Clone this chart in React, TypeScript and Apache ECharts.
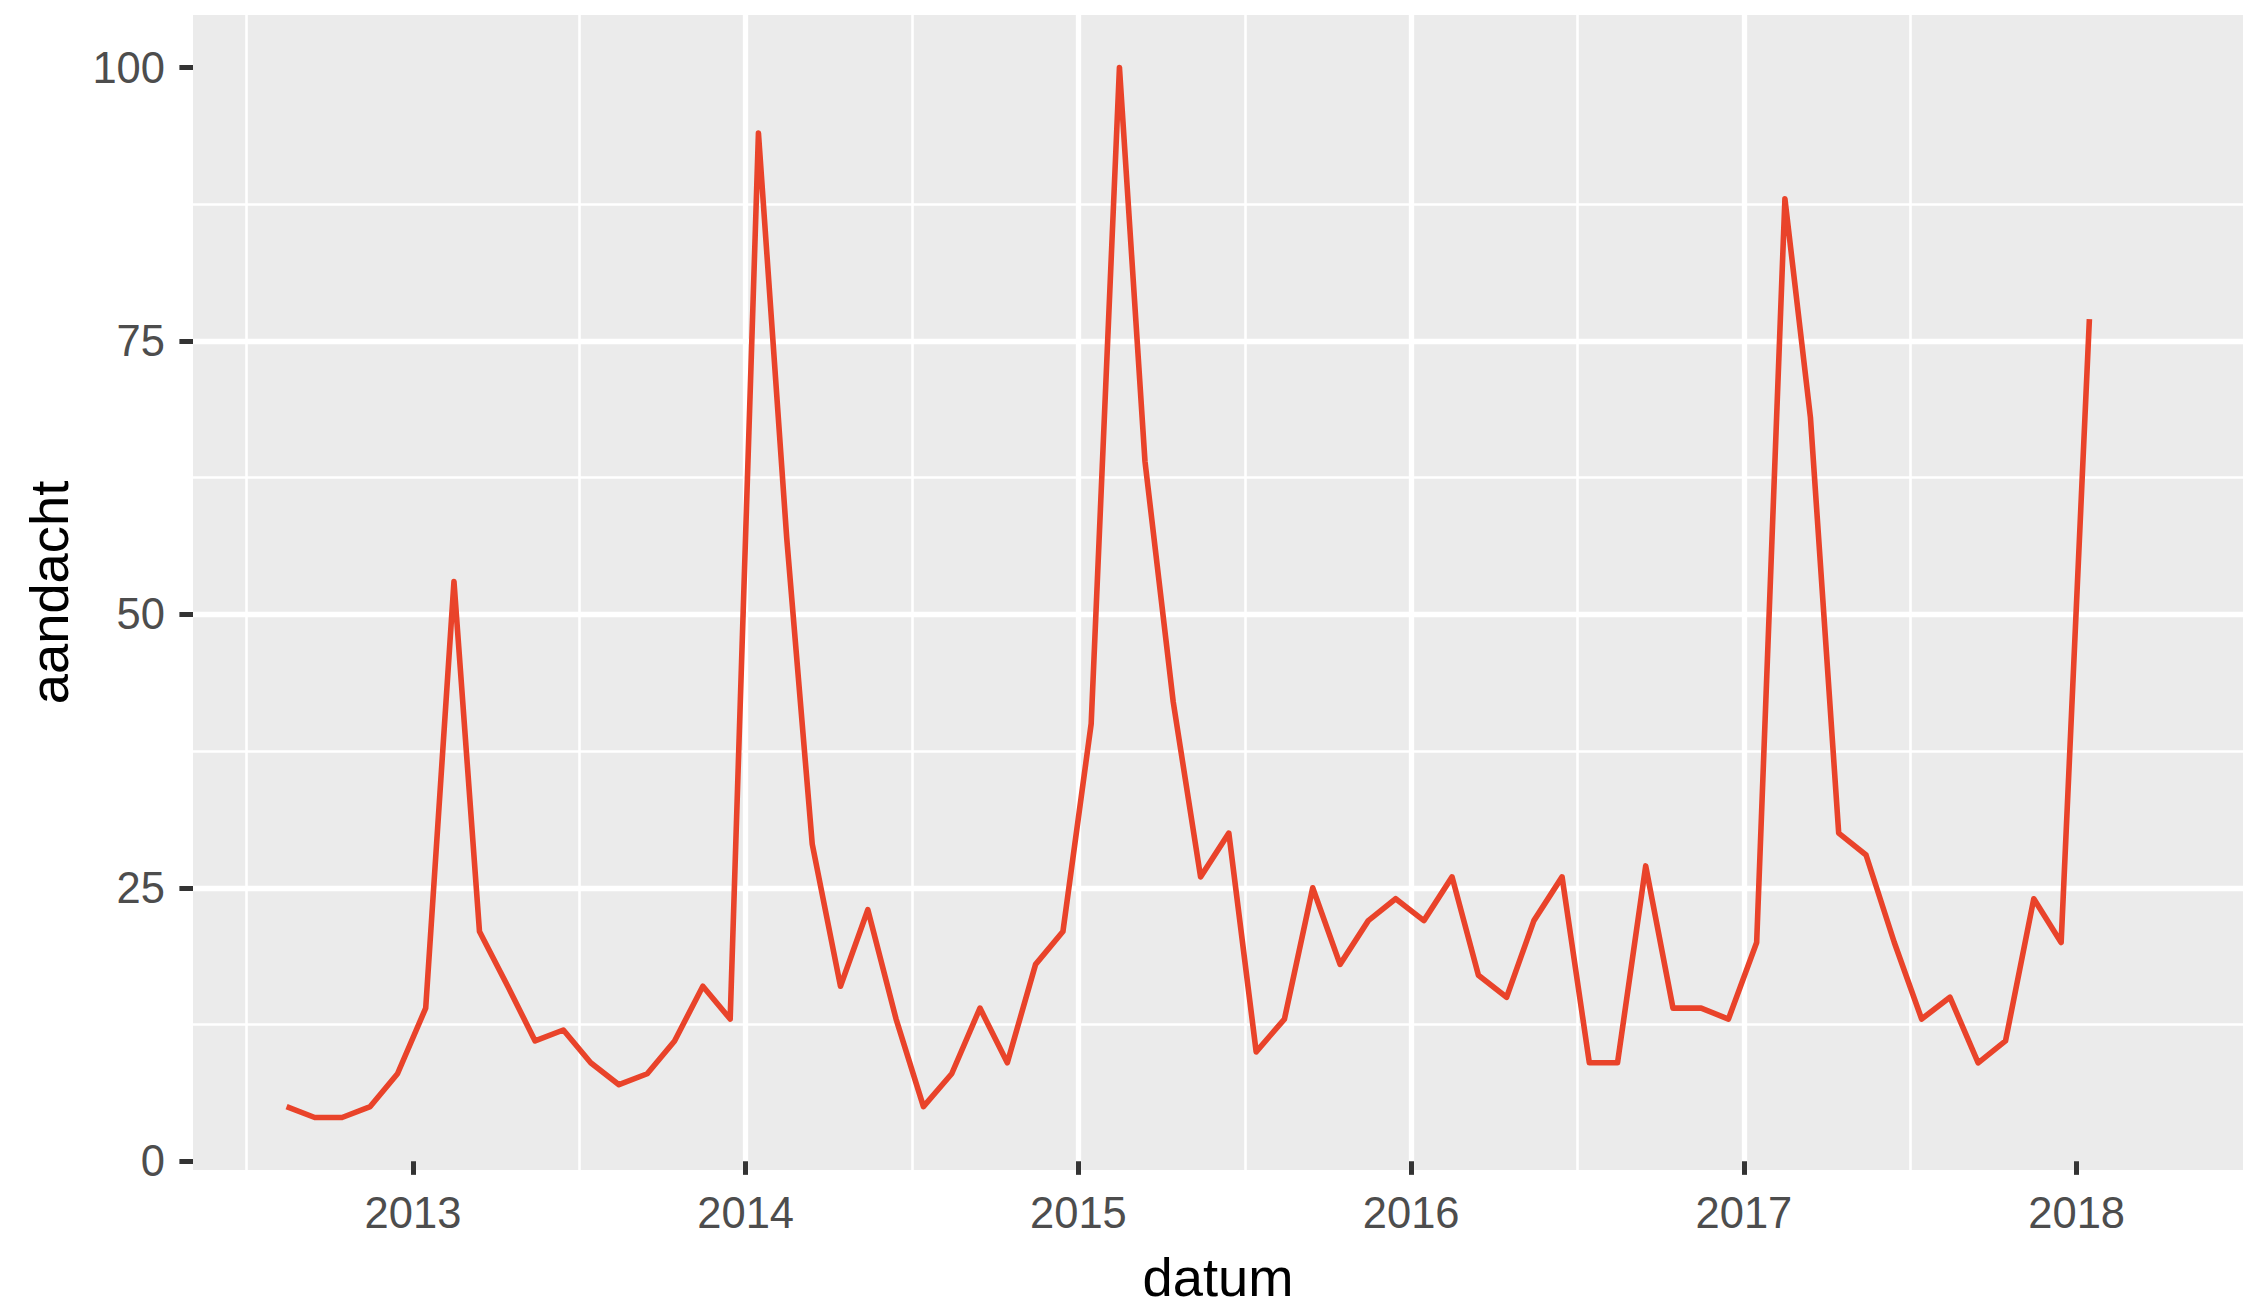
import React, { useEffect, useRef } from "react";
import * as echarts from "echarts";

// Monthly observations (mid-month), Aug 2012 – Jan 2018
const months: string[] = [
  "2012-08", "2012-09", "2012-10", "2012-11", "2012-12",
  "2013-01", "2013-02", "2013-03", "2013-04", "2013-05", "2013-06",
  "2013-07", "2013-08", "2013-09", "2013-10", "2013-11", "2013-12",
  "2014-01", "2014-02", "2014-03", "2014-04", "2014-05", "2014-06",
  "2014-07", "2014-08", "2014-09", "2014-10", "2014-11", "2014-12",
  "2015-01", "2015-02", "2015-03", "2015-04", "2015-05", "2015-06",
  "2015-07", "2015-08", "2015-09", "2015-10", "2015-11", "2015-12",
  "2016-01", "2016-02", "2016-03", "2016-04", "2016-05", "2016-06",
  "2016-07", "2016-08", "2016-09", "2016-10", "2016-11", "2016-12",
  "2017-01", "2017-02", "2017-03", "2017-04", "2017-05", "2017-06",
  "2017-07", "2017-08", "2017-09", "2017-10", "2017-11", "2017-12",
  "2018-01",
];

const aandacht: number[] = [
  5, 4, 4, 5, 8,
  14, 53, 21, 16, 11, 12, 9, 7, 8, 11, 16, 13,
  94, 57, 29, 16, 23, 13, 5, 8, 14, 9, 18, 21,
  40, 100, 64, 42, 26, 30, 10, 13, 25, 18, 22, 24,
  22, 26, 17, 15, 22, 26, 9, 9, 27, 14, 14, 13,
  20, 88, 68, 30, 28, 20, 13, 15, 9, 11, 24, 20,
  77,
];

const xTickLabels: number[] = [2013, 2014, 2015, 2016, 2017, 2018];
const yTickLabels: number[] = [0, 25, 50, 75, 100];

// Convert "YYYY-MM" (15th of month) to a decimal year position
function decimalYear(ym: string): number {
  const [y, m] = ym.split("-").map(Number);
  const t = Date.UTC(y, m - 1, 15);
  const s = Date.UTC(y, 0, 1);
  const e = Date.UTC(y + 1, 0, 1);
  return y + (t - s) / (e - s);
}

const FONT = "'Liberation Sans', Arial, Helvetica, sans-serif";

export default function App() {
  const ref = useRef<HTMLDivElement>(null);

  useEffect(() => {
    if (!ref.current) return;
    const chart = echarts.init(ref.current, undefined, { renderer: "svg" });
    const seriesData = months.map((m, i) => [decimalYear(m), aandacht[i]]);

    chart.setOption({
      animation: false,
      backgroundColor: "#FFFFFF",
      grid: {
        left: 193,
        top: 15,
        width: 2050,
        height: 1161,
        show: true,
        backgroundColor: "#EBEBEB",
        borderWidth: 0,
        containLabel: false,
      },
      xAxis: {
        type: "value",
        min: 2012.339,
        max: 2018.5,
        minInterval: 1,
        maxInterval: 1,
        axisLine: { show: false },
        axisTick: {
          show: true,
          length: 13.6,
          inside: false,
          customValues: xTickLabels,
          lineStyle: { color: "#333333", width: 5 },
        },
        axisLabel: {
          customValues: xTickLabels,
          formatter: (v: number) => String(Math.round(v)),
          fontSize: 43.5,
          color: "#4D4D4D",
          fontFamily: FONT,
          margin: 21,
        },
        splitLine: {
          show: true,
          showMinLine: false,
          showMaxLine: false,
          lineStyle: { color: "#FFFFFF", width: 5.3 },
        },
        minorTick: { show: false, splitNumber: 2 },
        minorSplitLine: { show: true, lineStyle: { color: "#FFFFFF", width: 2.6 } },
        name: "datum",
        nameLocation: "middle",
        nameGap: 80,
        nameTextStyle: { fontSize: 54.3, color: "#000000", fontFamily: FONT },
      },
      yAxis: {
        type: "value",
        min: -0.8,
        max: 104.8,
        minInterval: 25,
        maxInterval: 25,
        axisLine: { show: false },
        axisTick: {
          show: true,
          length: 13.6,
          inside: false,
          customValues: yTickLabels,
          lineStyle: { color: "#333333", width: 5 },
        },
        axisLabel: {
          customValues: yTickLabels,
          formatter: (v: number) => String(Math.round(v)),
          fontSize: 43.5,
          color: "#4D4D4D",
          fontFamily: FONT,
          margin: 28,
        },
        splitLine: {
          show: true,
          showMinLine: false,
          showMaxLine: false,
          lineStyle: { color: "#FFFFFF", width: 5.3 },
        },
        minorTick: { show: false, splitNumber: 2 },
        minorSplitLine: { show: true, lineStyle: { color: "#FFFFFF", width: 2.6 } },
        name: "aandacht",
        nameLocation: "middle",
        nameRotate: 90,
        nameGap: 117,
        nameTextStyle: { fontSize: 54.3, color: "#000000", fontFamily: FONT },
      },
      series: [
        {
          type: "line",
          data: seriesData,
          showSymbol: false,
          symbol: "none",
          silent: true,
          lineStyle: { color: "#E9432A", width: 5.6, join: "round", cap: "butt" },
          itemStyle: { color: "#E9432A" },
        },
      ],
    });

    return () => chart.dispose();
  }, []);

  return (
    <div
      ref={ref}
      style={{ position: "fixed", left: 0, top: 0, width: 2243, height: 1309 }}
    />
  );
}
